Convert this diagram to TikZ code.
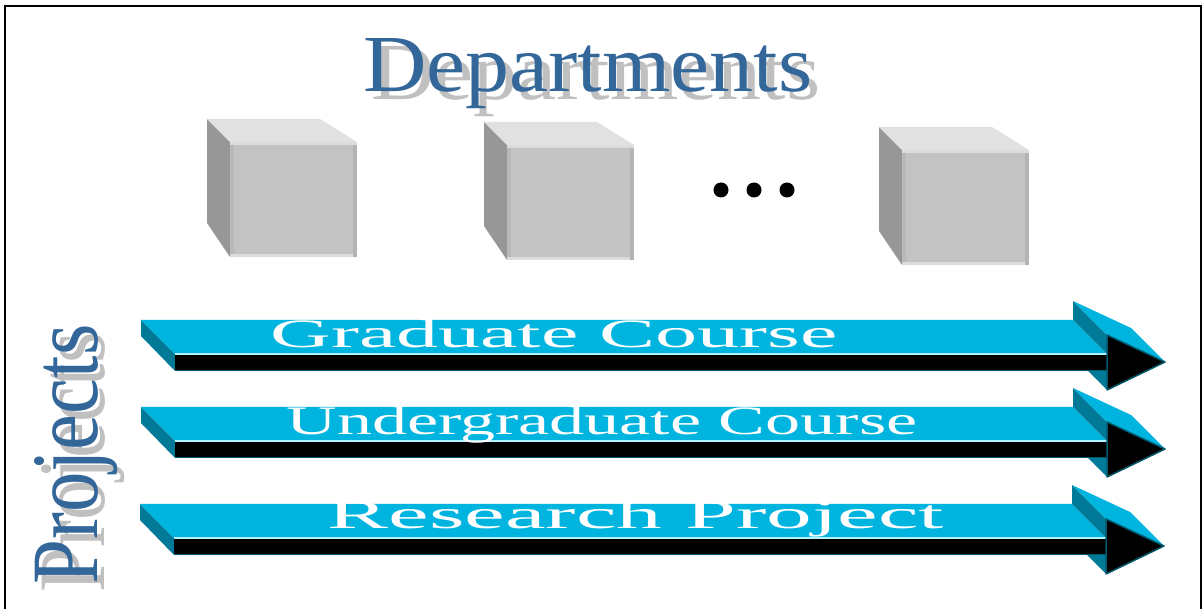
\documentclass[tikz,border=0pt]{standalone}
\usepackage{fontspec}
\setmainfont{Liberation Serif}
\usepackage{graphicx}

\definecolor{titleblue}{RGB}{51,102,153}
\definecolor{titleshadow}{RGB}{192,192,192}
\definecolor{slabtop}{RGB}{0,180,224}
\definecolor{slabside}{RGB}{0,122,150}
\definecolor{slabedge}{RGB}{0,88,108}
\definecolor{slabshine}{RGB}{178,242,255}
\definecolor{cubefront}{RGB}{195,195,195}
\definecolor{cubetop}{RGB}{225,225,225}
\definecolor{cubeside}{RGB}{151,151,151}
\definecolor{cuberim}{RGB}{220,220,220}
\definecolor{cubeedge}{RGB}{180,180,180}

% heading text with a grey drop shadow shifted by (#4 along, #5 up) in the text's own frame
\newcommand\shadowed[5]{%
  \makebox[0pt][l]{\hspace*{#4}\raisebox{#5}{\textcolor{titleshadow}{\resizebox{#1}{#2}{#3}}}}%
  \textcolor{titleblue}{\resizebox{#1}{#2}{#3}}}

\tikzset{
  frameline/.style={line width=2pt, black},
  titletext/.style={anchor=base west, inner sep=0pt},
  slabtext/.style={anchor=base, inner sep=0pt, text=white},
  bullet/.style={circle, fill=black, inner sep=0pt, minimum size=15pt},
  % grey block seen from the front-left, origin at the front face's top-left corner
  block/.pic={
    \fill[cubeside] (0,0) -- (-23,-23) -- (-23,81) -- (0,115) -- cycle;
    \fill[cubetop] (0,0) -- (-23,-23) -- (90,-23) -- (127,0) -- cycle;
    \fill[cubefront] (0,0) rectangle (127,115);
    \fill[cubeedge!70!cubefront] (0,0) rectangle (4,115);
    \fill[cubeedge] (123,0) rectangle (127,115);
    \fill[cuberim] (0,0) rectangle (127,3);
    \fill[cuberim] (0,112) rectangle (123,115);
  },
  % flat extruded arrow, origin at the middle of the shaft's front-left end
  slab arrow/.pic={
    \fill[slabside] (0,-8) -- (0,9) -- (-34,-26) -- (-34,-42) -- cycle;
    \fill[slabtop] (0,-8) -- (932,-8) -- (898,-42) -- (-34,-42) -- cycle;
    \fill[slabside] (932,-27) -- (932,-8) -- (898,-42) -- (898,-61) -- cycle;
    \fill[slabtop] (932,-27) -- (990,0) -- (956,-34) -- (898,-61) -- cycle;
    \fill[slabside] (912,8) -- (932,8) -- (932,28) -- cycle;
    \fill[black] (0,-7) rectangle (932,8);
    \draw[slabshine, line width=2.5pt] (0,-8) -- (932,-8);
    \draw[slabedge, line width=1.5pt] (0,8.5) -- (932,8.5);
    \filldraw[fill=black, draw=slabedge, line width=1.5pt, line join=round]
      (932,-27) -- (990,0) -- (932,28) -- cycle;
  }
}

\begin{document}
\begin{tikzpicture}[x=1pt, y=-1pt]
\useasboundingbox (0,0) rectangle (1203,609);
\fill[white] (0,0) rectangle (1203,609);

% open frame
\draw[frameline] (5,612) -- (5,6) -- (1201,6) -- (1201,612);

% heading
\node[titletext] (dept) at (363,92) {\shadowed{449pt}{53pt}{Departments}{8pt}{-8pt}};

% department blocks
\pic (blockA) at (230,142) {block};
\pic (blockB) at (507,145) {block};
\pic (blockC) at (902,150) {block};

% ellipsis
\node[bullet] (dotA) at (721,190) {};
\node[bullet] (dotB) at (754,190) {};
\node[bullet] (dotC) at (787,190) {};

% project arrows
\pic (slabA) at (175,362) {slab arrow};
\pic (slabB) at (175,449) {slab arrow};
\pic (slabC) at (174,546) {slab arrow};

\node[slabtext] (grad) at (554,348) {\resizebox{567pt}{28pt}{Graduate Course}};
\node[slabtext] (ugrad) at (602,435) {\resizebox{631pt}{28pt}{Undergraduate Course}};
\node[slabtext] (research) at (636,529) {\resizebox{616pt}{28pt}{Research Project}};

% side heading, read from bottom to top
\node[titletext, rotate=90] (proj) at (97,585) {\shadowed{260pt}{63pt}{Projects}{-8pt}{-8pt}};
\end{tikzpicture}
\end{document}
